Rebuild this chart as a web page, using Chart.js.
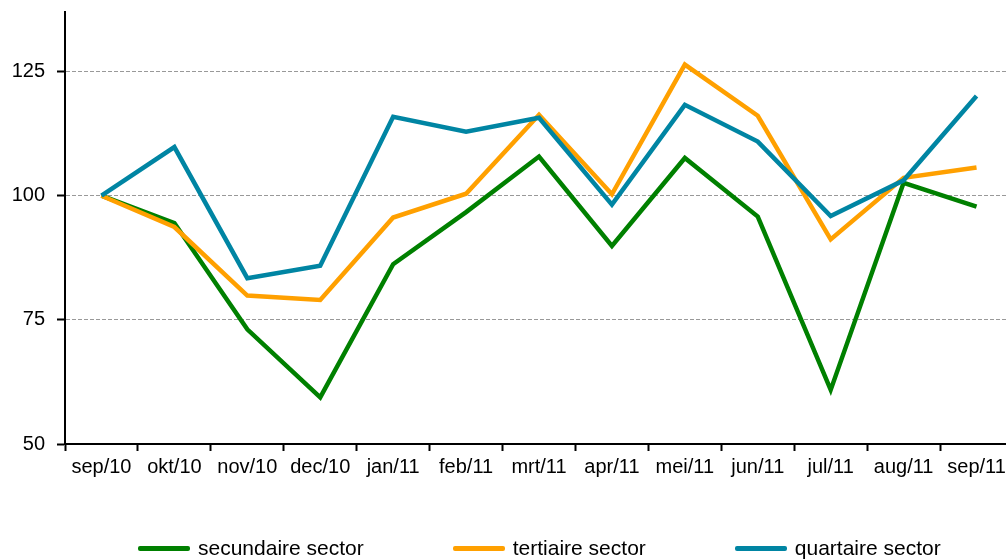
<!DOCTYPE html>
<html>
<head>
<meta charset="utf-8">
<script src="https://cdn.jsdelivr.net/npm/chart.js@4/dist/chart.umd.min.js"></script>
<style>
  html, body { margin: 0; padding: 0; background: #fff; overflow: hidden; }
  #wrap { position: relative; width: 1006px; height: 560px; overflow: hidden; }
  #chart { position: absolute; left: 0; top: 0; }
  #legend { position: absolute; left: 138px; top: 537px; display: flex; font-family: "Liberation Sans", Arial, sans-serif; font-size: 21px; line-height: 22px; color: #000; white-space: nowrap; }
  #legend .item { display: flex; align-items: center; margin-right: 89px; }
  #legend .swatch { width: 52px; height: 5px; border-radius: 2px; margin-right: 8px; }
</style>
</head>
<body>
<div id="wrap">
  <canvas id="chart" width="1013" height="560"></canvas>
  <div id="legend"></div>
</div>
<script>
var months = ['sep/10', 'okt/10', 'nov/10', 'dec/10', 'jan/11', 'feb/11', 'mrt/11', 'apr/11', 'mei/11', 'jun/11', 'jul/11', 'aug/11', 'sep/11'];
var secundair = [100, 94.5, 73.1, 59.4, 86.2, 96.7, 107.9, 89.9, 107.6, 95.8, 60.9, 102.6, 97.8];
var tertiair = [100, 93.7, 79.9, 79.0, 95.6, 100.4, 116.3, 100.3, 126.4, 116.1, 91.2, 103.6, 105.7];
var quartair = [100, 109.8, 83.4, 85.9, 115.9, 112.9, 115.7, 98.2, 118.3, 110.9, 95.9, 103.1, 120.1];
var yTicks = [50, 75, 100, 125];

var labelFont = { family: '"Liberation Sans", Arial, sans-serif', size: 20 };

function serie(label, data, color, order) {
    return {
        label: label,
        data: data,
        borderColor: color,
        backgroundColor: color,
        borderWidth: 4.5,
        borderJoinStyle: 'miter',
        tension: 0,
        pointRadius: 0,
        fill: false,
        order: order
    };
}

var datasets = [
    serie('secundaire sector', secundair, '#008000', 3),
    serie('tertiaire sector', tertiair, '#ffa000', 2),
    serie('quartaire sector', quartair, '#0085a3', 1)
];

var ctx = document.getElementById('chart').getContext('2d');
var myChart = new Chart(ctx, {
    type: 'line',
    data: {
        labels: months,
        datasets: datasets
    },
    options: {
        responsive: false,
        animation: false,
        layout: { padding: { top: 12, bottom: 0, left: 0, right: 0 } },
        scales: {
            x: {
                offset: true,
                afterFit: function(scale) {
                    scale.height = 116;
                    scale.paddingLeft = 0;
                    scale.paddingRight = 0;
                },
                grid: {
                    offset: true,
                    drawOnChartArea: false,
                    drawTicks: true,
                    tickLength: 7,
                    tickColor: '#000',
                    tickWidth: 2
                },
                border: { display: true, color: '#000', width: 2 },
                ticks: { color: '#000', font: labelFont, padding: 4, maxRotation: 0, autoSkip: false }
            },
            y: {
                min: 50,
                max: 137,
                afterFit: function(scale) {
                    scale.width = 65;
                    scale.paddingTop = 0;
                    scale.paddingBottom = 0;
                },
                afterBuildTicks: function(scale) {
                    scale.ticks = yTicks.map(function(v) { return { value: v }; });
                },
                grid: {
                    color: function(c) { return c.tick && c.tick.value === 50 ? 'rgba(0,0,0,0)' : '#999999'; },
                    lineWidth: 1,
                    tickLength: 8,
                    tickColor: '#000',
                    tickWidth: 2,
                    tickBorderDash: [1, 0]
                },
                border: { display: true, color: '#000', width: 2, dash: [4, 2] },
                ticks: { color: '#000', font: labelFont, padding: 12, stepSize: 25, includeBounds: false }
            }
        },
        plugins: {
            legend: { display: false },
            tooltip: { enabled: false }
        }
    }
});

var legend = document.getElementById('legend');
for (var i = 0; i < datasets.length; i++) {
    var item = document.createElement('div');
    item.className = 'item';
    var swatch = document.createElement('span');
    swatch.className = 'swatch';
    swatch.style.background = datasets[i].borderColor;
    var text = document.createElement('span');
    text.textContent = datasets[i].label;
    item.appendChild(swatch);
    item.appendChild(text);
    legend.appendChild(item);
}
</script>
</body>
</html>
